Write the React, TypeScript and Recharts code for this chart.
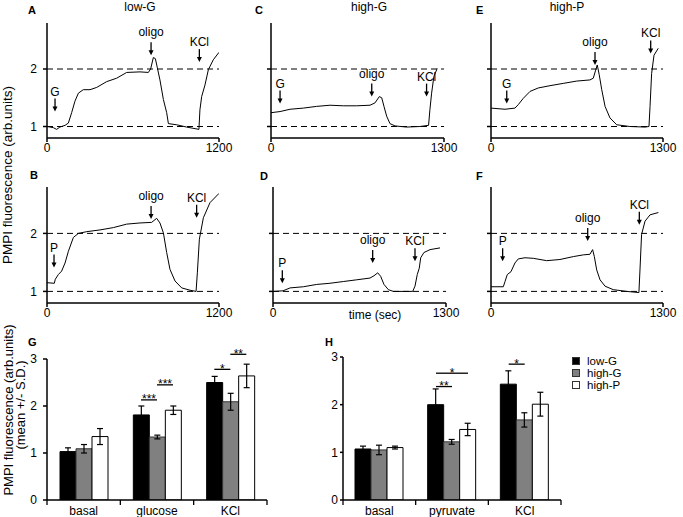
import React from 'react';
import {
  LineChart, Line, XAxis, YAxis, ReferenceLine, ReferenceDot,
  BarChart, Bar, ErrorBar, Legend,
} from 'recharts';

const FONT = '"Liberation Sans", Arial, sans-serif';

// ─── traces: [time (s), PMPI fluorescence] ───────────────────
const traceA = [
  [0, 1.0], [44, 0.98], [67, 0.95], [90, 0.99], [126, 1.02], [149, 1.06], [172, 1.24],
  [195, 1.44], [219, 1.58], [253, 1.64], [300, 1.64], [347, 1.68], [416, 1.78], [486, 1.84],
  [556, 1.94], [649, 1.95], [707, 1.94], [723, 2.0], [742, 2.2], [756, 2.18], [770, 2.02],
  [788, 1.81], [812, 1.47], [835, 1.24], [847, 1.05], [905, 1.03], [974, 0.99], [1060, 0.95],
  [1067, 1.29], [1079, 1.52], [1102, 1.72], [1126, 1.99], [1160, 2.16], [1200, 2.29],
];
const traceC = [
  [0, 1.24], [68, 1.26], [143, 1.3], [243, 1.32], [343, 1.35], [443, 1.37], [543, 1.36],
  [644, 1.36], [744, 1.37], [781, 1.41], [814, 1.52], [832, 1.5], [849, 1.35], [869, 1.18],
  [894, 1.05], [932, 1.01], [1019, 0.99], [1119, 1.0], [1184, 1.02], [1194, 1.29],
  [1207, 1.58], [1224, 1.87], [1249, 2.01],
];
const traceE = [
  [0, 1.32], [106, 1.3], [181, 1.32], [206, 1.38], [244, 1.49], [295, 1.61], [357, 1.67],
  [446, 1.71], [546, 1.75], [648, 1.79], [748, 1.81], [773, 1.84], [791, 1.98], [803, 2.07],
  [818, 1.9], [837, 1.64], [862, 1.35], [899, 1.15], [950, 1.03], [1050, 1.0], [1164, 0.99],
  [1194, 1.0], [1202, 1.35], [1214, 1.92], [1232, 2.24], [1264, 2.36],
];
const traceB = [
  [0, 1.15], [51, 1.14], [58, 1.21], [79, 1.29], [102, 1.35], [126, 1.49], [149, 1.69],
  [184, 1.93], [219, 2.0], [277, 2.03], [370, 2.06], [463, 2.1], [556, 2.16], [649, 2.18],
  [730, 2.19], [765, 2.26], [788, 2.18], [812, 2.01], [835, 1.67], [858, 1.38], [893, 1.18],
  [940, 1.06], [998, 1.02], [1040, 1.0], [1049, 1.32], [1063, 1.9], [1091, 2.27],
  [1137, 2.53], [1200, 2.69],
];
const traceD = [
  [0, 1.0], [75, 1.01], [128, 1.06], [228, 1.08], [328, 1.12], [428, 1.14], [528, 1.17],
  [629, 1.2], [729, 1.23], [759, 1.27], [787, 1.32], [809, 1.26], [834, 1.12], [867, 1.03],
  [904, 1.0], [1050, 1.0], [1067, 1.09], [1084, 1.29], [1099, 1.4], [1110, 1.58],
  [1134, 1.67], [1180, 1.72], [1255, 1.75],
];
const traceF = [
  [0, 1.08], [93, 1.08], [106, 1.17], [123, 1.29], [151, 1.34], [181, 1.49], [206, 1.56],
  [257, 1.58], [320, 1.57], [421, 1.53], [521, 1.55], [622, 1.6], [698, 1.63], [748, 1.64],
  [768, 1.72], [781, 1.6], [799, 1.37], [824, 1.2], [862, 1.09], [924, 1.03], [1025, 1.0],
  [1118, 0.98], [1126, 1.37], [1138, 1.98], [1164, 2.21], [1202, 2.32], [1265, 2.36],
];

// arrow annotations (time, value at arrow tip)
const arrowsA = [{ label: 'G', t: 56, v: 1.26 }, { label: 'oligo', t: 726, v: 2.24 }, { label: 'KCl', t: 1063, v: 2.12 }];
const arrowsC = [{ label: 'G', t: 68, v: 1.4 }, { label: 'oligo', t: 757, v: 1.52 }, { label: 'KCl', t: 1169, v: 1.52 }];
const arrowsE = [{ label: 'G', t: 119, v: 1.4 }, { label: 'oligo', t: 786, v: 2.07 }, { label: 'KCl', t: 1207, v: 2.27 }];
const arrowsB = [{ label: 'P', t: 49, v: 1.41 }, { label: 'oligo', t: 726, v: 2.25 }, { label: 'KCl', t: 1044, v: 2.27 }];
const arrowsD = [{ label: 'P', t: 70, v: 1.14 }, { label: 'oligo', t: 749, v: 1.49 }, { label: 'KCl', t: 1067, v: 1.52 }];
const arrowsF = [{ label: 'P', t: 88, v: 1.52 }, { label: 'oligo', t: 731, v: 1.87 }, { label: 'KCl', t: 1121, v: 2.15 }];

// ─── bar panels ──────────────────────────────────────────────
const groups = ['low-G', 'high-G', 'high-P'];

const gCats = ['basal', 'glucose', 'KCl'];
const gLow = [1.03, 1.81, 2.5];
const gLowSd = [0.08, 0.19, 0.13];
const gHighG = [1.09, 1.34, 2.09];
const gHighGSd = [0.09, 0.04, 0.18];
const gHighP = [1.35, 1.91, 2.64];
const gHighPSd = [0.17, 0.09, 0.25];
const gSig = [
  { cat: 'glucose', from: 0, to: 1, y: 2.13, label: '***' },
  { cat: 'glucose', from: 1, to: 2, y: 2.45, label: '***' },
  { cat: 'KCl', from: 0, to: 1, y: 2.78, label: '*' },
  { cat: 'KCl', from: 1, to: 2, y: 3.1, label: '**' },
];

const hCats = ['basal', 'pyruvate', 'KCl'];
const hLow = [1.07, 2.0, 2.43];
const hLowSd = [0.06, 0.33, 0.28];
const hHighG = [1.05, 1.22, 1.68];
const hHighGSd = [0.1, 0.05, 0.15];
const hHighP = [1.1, 1.48, 2.01];
const hHighPSd = [0.03, 0.13, 0.25];
const hSig = [
  { cat: 'pyruvate', from: 0, to: 1, y: 2.38, label: '**' },
  { cat: 'pyruvate', from: 0, to: 2, y: 2.66, label: '*' },
  { cat: 'KCl', from: 0, to: 1, y: 2.85, label: '*' },
];

const BAR = 16;
const axisStyle = { stroke: '#000', strokeWidth: 1.5 };
const tickStyle = { fontSize: 12, fill: '#000', fontFamily: FONT };

const Arrow = ({ cx, cy, label }: any) => {
  const top = cy - 13;
  const gap = label.includes('g') ? 6 : 3;
  return (
    <g>
      <line x1={cx} y1={top} x2={cx} y2={cy - 4} stroke="#000" strokeWidth={1.3} />
      <path d={`M${cx - 2.5},${cy - 5}L${cx + 2.5},${cy - 5}L${cx},${cy}Z`} fill="#000" />
      <text x={cx} y={top - gap} textAnchor="middle" fontSize={12} fontFamily={FONT} fill="#000">{label}</text>
    </g>
  );
};

const YW = 30, MT = 10, MR = 22, XH = 18;

function TracePanel({ data, arrows, xMax, left, top, width, height, labels }: any) {
  const rows = data.map(([t, v]: number[]) => ({ t, v }));
  return (
    <div style={{ position: 'absolute', left: left - YW, top: top - MT }}>
      <LineChart width={YW + width + MR} height={MT + height + XH} data={rows}
        margin={{ top: MT, right: MR, left: 0, bottom: 0 }}>
        <XAxis type="number" dataKey="t" domain={[0, xMax]} ticks={[0, xMax]} interval={0}
          allowDataOverflow height={XH} tick={tickStyle} tickSize={4} tickMargin={1}
          axisLine={axisStyle} tickLine={axisStyle} />
        <YAxis type="number" domain={[0.8, 2.8]} ticks={[1, 2]} interval={0} allowDataOverflow
          width={YW} tick={tickStyle} tickSize={4} tickMargin={6}
          tickFormatter={labels ? (v: number) => String(v) : () => ''}
          axisLine={axisStyle} tickLine={axisStyle} />
        <ReferenceLine y={1} stroke="#000" strokeDasharray="6 4" />
        <ReferenceLine y={2} stroke="#000" strokeDasharray="6 4" />
        <Line dataKey="v" type="linear" stroke="#000" strokeWidth={1} dot={false} isAnimationActive={false} />
        {arrows.map((a: any) => (
          <ReferenceDot key={a.label} x={a.t} y={a.v} ifOverflow="visible"
            shape={(p: any) => <Arrow {...p} label={a.label} />} />
        ))}
      </LineChart>
    </div>
  );
}

// tick marks on the category boundaries (left edge of each band, plus right edge of last)
const EdgeMarks = ({ cx, cy, band, last }: any) => (
  <g>
    <line x1={cx - band / 2} y1={cy} x2={cx - band / 2} y2={cy + 5} stroke="#000" strokeWidth={1.3} />
    {last && <line x1={cx + band / 2} y1={cy} x2={cx + band / 2} y2={cy + 5} stroke="#000" strokeWidth={1.3} />}
  </g>
);

const Bracket = ({ cx, cy, from, to, label }: any) => {
  const x1 = cx + (from - 1) * BAR;
  const x2 = cx + (to - 1) * BAR;
  return (
    <g>
      <line x1={x1} y1={cy} x2={x2} y2={cy} stroke="#000" strokeWidth={1.3} />
      <text x={(x1 + x2) / 2} y={cy + 3.5} textAnchor="middle" fontSize={12} fontFamily={FONT} fill="#000">{label}</text>
    </g>
  );
};

const LegendBox = ({ payload }: any) => (
  <div style={{ fontFamily: FONT, fontSize: 11.5, color: '#000' }}>
    {(payload || []).map((e: any) => (
      <div key={e.value} style={{ display: 'flex', alignItems: 'center', height: 12, lineHeight: '12px' }}>
        <span style={{
          display: 'inline-block', width: 8, height: 8, boxSizing: 'border-box',
          background: e.color, border: '1px solid #333', marginRight: 7,
        }} />
        {e.value}
      </div>
    ))}
  </div>
);

const BMT = 20;

function BarPanel({ cats, low, lowSd, hiG, hiGSd, hiP, hiPSd, sig, left, top, width, height, ytick, extraRight, legend }: any) {
  const rows = cats.map((cat: string, i: number) => ({
    cat, low: low[i], lowSd: lowSd[i], hiG: hiG[i], hiGSd: hiGSd[i], hiP: hiP[i], hiPSd: hiPSd[i],
  }));
  const mr = extraRight ?? 10;
  const band = width / cats.length;
  return (
    <div style={{ position: 'absolute', left: left - YW, top: top - BMT }}>
      <BarChart width={YW + width + mr} height={BMT + height + 17} data={rows} barGap={0}
        margin={{ top: BMT, right: mr, left: 0, bottom: 0 }}>
        <XAxis dataKey="cat" type="category" height={17} tick={tickStyle} tickLine={false}
          tickSize={0} tickMargin={6} interval={0} axisLine={axisStyle} />
        <YAxis type="number" domain={[0, 3]} ticks={[0, 1, 2, 3]} interval={0} allowDataOverflow
          width={YW} tick={tickStyle} tickSize={ytick[0]} tickMargin={ytick[1]}
          axisLine={axisStyle} tickLine={axisStyle} />
        <Bar dataKey="low" name={groups[0]} fill="#000" stroke="#000" barSize={BAR} isAnimationActive={false}>
          <ErrorBar dataKey="lowSd" width={3} stroke="#000" strokeWidth={1.2} />
        </Bar>
        <Bar dataKey="hiG" name={groups[1]} fill="#808080" stroke="#333" barSize={BAR} isAnimationActive={false}>
          <ErrorBar dataKey="hiGSd" width={3} stroke="#000" strokeWidth={1.2} />
        </Bar>
        <Bar dataKey="hiP" name={groups[2]} fill="#fff" stroke="#000" barSize={BAR} isAnimationActive={false}>
          <ErrorBar dataKey="hiPSd" width={3} stroke="#000" strokeWidth={1.2} />
        </Bar>
        {cats.map((c: string, i: number) => (
          <ReferenceDot key={c} x={c} y={0} ifOverflow="visible"
            shape={(p: any) => <EdgeMarks {...p} band={band} last={i === cats.length - 1} />} />
        ))}
        {sig.map((s: any, i: number) => (
          <ReferenceDot key={'s' + i} x={s.cat} y={s.y} ifOverflow="visible"
            shape={(p: any) => <Bracket {...p} from={s.from} to={s.to} label={s.label} />} />
        ))}
        {legend && (
          <Legend layout="vertical" align="center" verticalAlign="middle" content={<LegendBox />}
            itemSorter={(item: any) => groups.indexOf(item.value)}
            wrapperStyle={{ left: legend[0], top: legend[1], width: 'auto', height: 'auto' }} />
        )}
      </BarChart>
    </div>
  );
}

export default function App() {
  return (
    <div style={{ position: 'absolute', left: 0, top: 0, width: 683, height: 517, background: '#fff', fontFamily: FONT }}>
      <TracePanel data={traceA} arrows={arrowsA} xMax={1200} left={47} top={23} width={172} height={115} labels />
      <TracePanel data={traceC} arrows={arrowsC} xMax={1300} left={271} top={23} width={173} height={115} />
      <TracePanel data={traceE} arrows={arrowsE} xMax={1300} left={491} top={23} width={172} height={115} />
      <TracePanel data={traceB} arrows={arrowsB} xMax={1200} left={47} top={187} width={172} height={116} labels />
      <TracePanel data={traceD} arrows={arrowsD} xMax={1300} left={273} top={187} width={173} height={116} />
      <TracePanel data={traceF} arrows={arrowsF} xMax={1300} left={491} top={187} width={172} height={116} />

      <BarPanel cats={gCats} low={gLow} lowSd={gLowSd} hiG={gHighG} hiGSd={gHighGSd} hiP={gHighP} hiPSd={gHighPSd}
        sig={gSig} left={47} top={359} width={220} height={141} ytick={[4, 6]} />
      <BarPanel cats={hCats} low={hLow} lowSd={hLowSd} hiG={hHighG} hiGSd={hHighGSd} hiP={hHighP} hiPSd={hHighPSd}
        sig={hSig} left={343} top={357} width={218} height={143} ytick={[3, 2]} extraRight={122}
        legend={[259, 18]} />

      <svg width={683} height={517} style={{ position: 'absolute', left: 0, top: 0, pointerEvents: 'none' }}
        fontFamily={FONT} fill="#000">
        <text x={140} y={11} textAnchor="middle" fontSize={12}>low-G</text>
        <text x={369} y={11} textAnchor="middle" fontSize={12}>high-G</text>
        <text x={567} y={11} textAnchor="middle" fontSize={12}>high-P</text>
        <g fontWeight="bold" fontSize={11}>
          <text x={28} y={14}>A</text>
          <text x={255} y={14}>C</text>
          <text x={476} y={14}>E</text>
          <text x={30} y={179}>B</text>
          <text x={260} y={180}>D</text>
          <text x={476} y={180}>F</text>
          <text x={28} y={346}>G</text>
          <text x={325} y={346}>H</text>
        </g>
        <text x={375} y={319} textAnchor="middle" fontSize={12}>time (sec)</text>
        <text transform="translate(12,175) rotate(-90)" textAnchor="middle" fontSize={13.5}>PMPI fluorescence (arb.units)</text>
        <text transform="translate(13,410) rotate(-90)" textAnchor="middle" fontSize={13}>PMPI fluorescence (arb.units)</text>
        <text transform="translate(25,405) rotate(-90)" textAnchor="middle" fontSize={13}>(mean +/- S.D.)</text>
      </svg>
    </div>
  );
}
